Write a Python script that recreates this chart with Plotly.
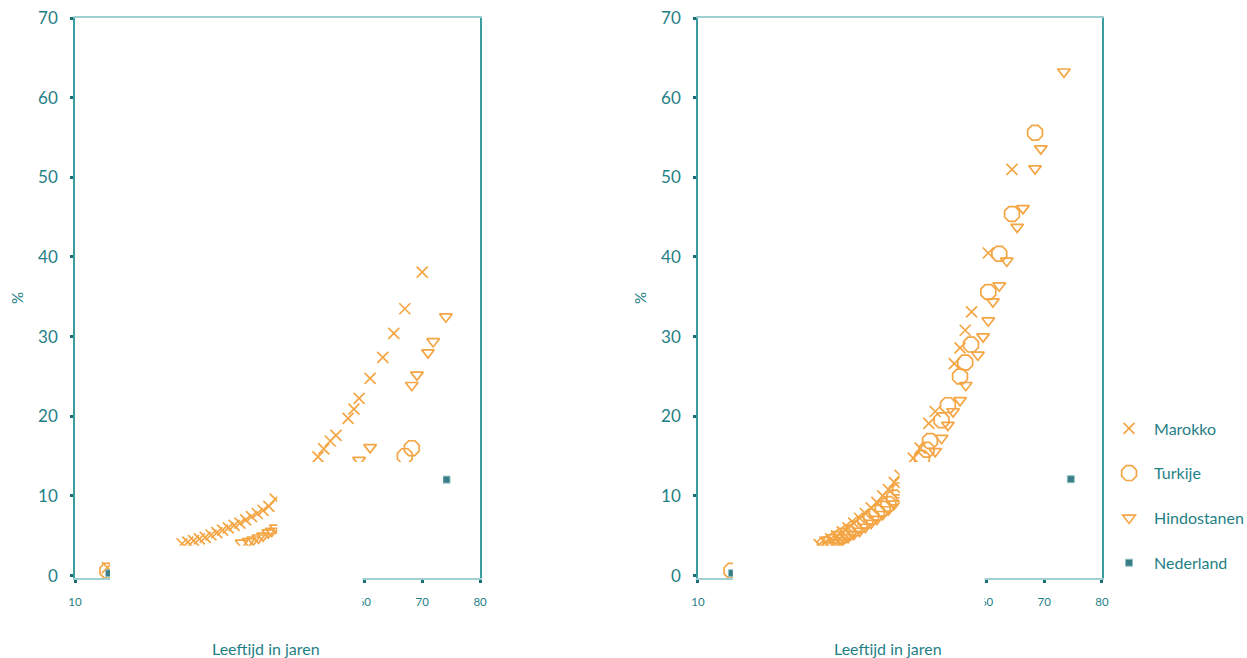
import plotly.graph_objects as go

# ---------------- data ----------------
# Panel A (left)
mar_a_age = [15.6, 28.5, 29.5, 30.5, 31.5, 32.5, 33.5, 34.5, 35.5, 36.5, 37.5, 38.5, 39.5,
             40.5, 41.5, 42.5, 43.5, 44.6, 52.0, 53.0, 54.1, 55.1, 57.2, 58.2, 59.1, 61.0,
             63.2, 65.1, 67.0, 70.0]
mar_a_pct = [1.0, 4.0, 4.2, 4.4, 4.6, 4.8, 5.1, 5.4, 5.7, 6.0, 6.3, 6.6, 7.0,
             7.4, 7.8, 8.2, 8.7, 9.6, 14.9, 15.9, 16.9, 17.6, 19.75, 20.9, 22.25, 24.75,
             27.4, 30.4, 33.5, 38.1]
tur_a_age = [15.6, 67.0, 68.2]
tur_a_pct = [0.6, 15.0, 16.0]
hin_a_age = [38.8, 40.0, 40.8, 41.7, 42.5, 43.4, 44.0, 44.7, 59.1, 61.0, 68.2, 69.1, 71.0, 71.9, 74.1]
hin_a_pct = [4.1, 4.3, 4.5, 4.75, 5.0, 5.4, 5.6, 6.0, 14.5, 16.1, 23.9, 25.2, 28.0, 29.4, 32.5]
ned_a_age = [15.9, 74.2]
ned_a_pct = [0.3, 12.05]

# Panel B (right)
mar_b_age = [31, 32, 33, 34, 35, 36, 37, 38, 39, 40, 41, 42, 43, 44, 45,
             47.3, 48.5, 50.0, 51.1, 54.4, 55.4, 56.3, 57.4, 60.3, 64.4]
mar_b_pct = [3.9, 4.2, 4.6, 5.0, 5.5, 6.0, 6.6, 7.2, 7.8, 8.5, 9.2, 10.0, 10.8, 11.7, 12.6,
             14.75, 16.0, 19.1, 20.6, 26.6, 28.6, 30.8, 33.1, 40.5, 51.0]
tur_b_age = [15.8, 32, 33, 34, 35, 36, 37, 38, 39, 40, 41, 42, 43, 44, 45,
             48.8, 49.6, 50.2, 52.2, 53.3, 55.4, 56.3, 57.3, 60.3, 62.2, 64.4, 68.4]
tur_b_pct = [0.6, 3.9, 4.2, 4.6, 5.0, 5.4, 5.9, 6.4, 6.9, 7.4, 7.9, 8.4, 9.0, 9.8, 10.7,
             14.75, 15.8, 16.9, 19.5, 21.4, 25.0, 26.75, 29.0, 35.6, 40.4, 45.4, 55.6]
hin_b_age = [33, 34, 35, 36, 37, 38, 39, 40, 41, 42, 43, 44, 45,
             51.1, 52.2, 53.3, 54.2, 55.4, 56.4, 58.5, 59.4, 60.3, 61.1, 62.2, 63.5,
             65.3, 66.3, 68.4, 69.4, 73.4]
hin_b_pct = [3.8, 4.1, 4.4, 4.8, 5.2, 5.6, 6.1, 6.6, 7.1, 7.7, 8.3, 9.0, 9.8,
             15.6, 17.25, 18.9, 20.6, 22.0, 23.9, 27.7, 30.0, 32.0, 34.4, 36.4, 39.5,
             43.75, 46.1, 51.1, 53.6, 63.25]
ned_b_age = [15.9, 74.6]
ned_b_pct = [0.3, 12.1]

series_names = ["Marokko", "Turkije", "Hindostanen", "Nederland"]
x_ticks = [10, 20, 30, 40, 50, 60, 70, 80]
y_ticks = [0, 10, 20, 30, 40, 50, 60, 70]

# ---------------- style ----------------
TEAL = "#1f8086"
ORANGE = "#f4a544"
XMIN, XMAX = 10, 80
YMIN, YMAX = -0.3, 70
FONT = "Lato, 'Open Sans', sans-serif"

# white blank-out areas seen in the picture (in axis units)
BLANKS = [(16.05, 59.65, -6.2, 3.75), (44.95, 73.6, 0.0, 14.25), (73.6, 79.85, 0.0, 11.2)]

marker_styles = {
    "Marokko": dict(symbol="x-thin-open", size=11, color=ORANGE, line=dict(color=ORANGE, width=1.7)),
    "Turkije": dict(symbol="octagon-open", size=16, color=ORANGE, line=dict(color=ORANGE, width=1.7)),
    "Hindostanen": dict(symbol="triangle-down-open", size=11, color=ORANGE, line=dict(color=ORANGE, width=1.7)),
    "Nederland": dict(symbol="square", size=7, color="#3b7d86", line=dict(color="#8fc1c4", width=1)),
}

panels = [
    ("x", "y", [(mar_a_age, mar_a_pct), (tur_a_age, tur_a_pct), (hin_a_age, hin_a_pct), (ned_a_age, ned_a_pct)]),
    ("x2", "y2", [(mar_b_age, mar_b_pct), (tur_b_age, tur_b_pct), (hin_b_age, hin_b_pct), (ned_b_age, ned_b_pct)]),
]

fig = go.Figure()
for pi, (xa, ya, data) in enumerate(panels):
    for name, (ages, pcts) in zip(series_names, data):
        fig.add_trace(go.Scatter(
            x=ages, y=pcts, mode="markers", name=name,
            marker=marker_styles[name], xaxis=xa, yaxis=ya,
            legendgroup=name, showlegend=(pi == 0), hoverinfo="x+y+name",
        ))

domains = [[0.0, 0.3944], [0.6066, 1.0]]
axis_common_x = dict(range=[XMIN, XMAX], tickvals=x_ticks, showgrid=False, zeroline=False,
                     showline=True, linecolor="#9fcfcf", linewidth=2, mirror=True,
                     ticks="outside", ticklen=3, tickwidth=3, tickcolor="#1b6f74",
                     tickfont=dict(family=FONT, size=11.5, color=TEAL), ticklabelstandoff=9)
axis_common_y = dict(range=[YMIN, YMAX], tickvals=y_ticks, showgrid=False, zeroline=False,
                     showline=True, linecolor="#3a9ea1", linewidth=1.5, mirror=True,
                     ticks="outside", ticklen=3, tickwidth=3, tickcolor="#1b6f74",
                     tickfont=dict(family=FONT, size=17, color=TEAL), ticklabelstandoff=9)

fig.update_layout(
    width=1247, height=658,
    margin=dict(l=75, r=145, t=18, b=80, autoexpand=False),
    paper_bgcolor="white", plot_bgcolor="white",
    font=dict(family=FONT, color=TEAL),
    xaxis=dict(domain=domains[0], anchor="y", **axis_common_x),
    yaxis=dict(domain=[0, 1], anchor="x", **axis_common_y),
    xaxis2=dict(domain=domains[1], anchor="y2", **axis_common_x),
    yaxis2=dict(domain=[0, 1], anchor="x2", **axis_common_y),
    legend=dict(x=1.002, xanchor="left", y=0.2975, yanchor="top",
                font=dict(family=FONT, size=16, color=TEAL), itemwidth=40,
                tracegroupgap=21, bgcolor="rgba(0,0,0,0)"),
    showlegend=True,
)

shapes = []
for dom in domains:
    for (a0, a1, b0, b1) in BLANKS:
        px0 = dom[0] + (a0 - XMIN) / (XMAX - XMIN) * (dom[1] - dom[0])
        px1 = dom[0] + (a1 - XMIN) / (XMAX - XMIN) * (dom[1] - dom[0])
        py0 = (b0 - YMIN) / (YMAX - YMIN)
        py1 = (b1 - YMIN) / (YMAX - YMIN)
        shapes.append(dict(type="rect", xref="paper", yref="paper", x0=px0, x1=px1, y0=py0, y1=py1,
                           fillcolor="white", line=dict(width=0), layer="above"))
fig.update_layout(shapes=shapes)

annotations = []
for xd in ["x domain", "x2 domain"]:
    annotations.append(dict(text="%", xref=xd, yref="paper", x=0, y=0.5, xanchor="center",
                            yanchor="middle", xshift=-58, textangle=-90, showarrow=False,
                            font=dict(family=FONT, size=15, color=TEAL)))
    annotations.append(dict(text="Leeftijd in jaren", xref=xd, yref="paper", x=0.5, y=0,
                            xanchor="center", yanchor="middle", xshift=-12, yshift=-70,
                            showarrow=False, font=dict(family=FONT, size=16, color=TEAL)))
fig.update_layout(annotations=annotations)

fig.write_html("out.html", config={"displayModeBar": False})

# remove the browser's default page margin so the figure sits at the window's corner
with open("out.html", "r", encoding="utf-8") as f:
    html = f.read()
html = html.replace("<head>", "<head><style>html,body{margin:0;padding:0;overflow:hidden;}</style>", 1)
with open("out.html", "w", encoding="utf-8") as f:
    f.write(html)
